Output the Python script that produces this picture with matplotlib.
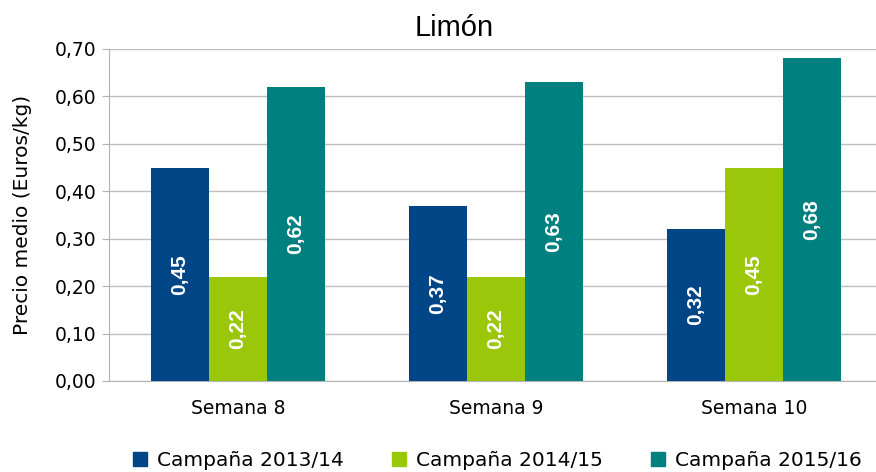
import matplotlib
matplotlib.use("Agg")
import matplotlib.pyplot as plt
from matplotlib.lines import Line2D
import numpy as np

semanas = ["Semana 8", "Semana 9", "Semana 10"]
campanas = ["Campaña 2013/14", "Campaña 2014/15", "Campaña 2015/16"]
precio_1314 = [0.45, 0.37, 0.32]
precio_1415 = [0.22, 0.22, 0.45]
precio_1516 = [0.62, 0.63, 0.68]
colores = ["#004586", "#9bc70b", "#00807f"]
y_ticks = [0.0, 0.1, 0.2, 0.3, 0.4, 0.5, 0.6, 0.7]

fig = plt.figure(figsize=(8.76, 4.72), dpi=100)
ax = fig.add_axes([109 / 876, 1 - 381 / 472, 774 / 876, 332 / 472])

x = np.arange(len(semanas))
width = 0.225
series = [precio_1314, precio_1415, precio_1516]
for i, (vals, col, lab) in enumerate(zip(series, colores, campanas)):
    pos = x + (i - 1) * width
    ax.bar(pos, vals, width=width, color=col, label=lab, zorder=3)
    for xp, v in zip(pos, vals):
        ax.text(xp, v / 2, f"{v:.2f}".replace(".", ","), rotation=90,
                ha="center", va="center", color="white", fontsize=15,
                fontweight="bold", family="Liberation Sans", zorder=4)

ax.set_xlim(-0.5, 2.5)
ax.set_ylim(0, 0.7)
ax.set_yticks(y_ticks)
ax.set_yticklabels([f"{t:.2f}".replace(".", ",") for t in y_ticks], fontsize=13.5)
ax.set_xticks(x)
ax.set_xticklabels(semanas, fontsize=13.5)
ax.tick_params(axis="x", length=0, pad=13)
ax.tick_params(axis="y", length=5, color="#b3b3b3", pad=4)
ax.grid(axis="y", color="#bdbdbd", linewidth=1, zorder=0)
for s in ["top", "right"]:
    ax.spines[s].set_visible(False)
for s in ["left", "bottom"]:
    ax.spines[s].set_color("#b3b3b3")
ax.set_ylabel("Precio medio (Euros/kg)", fontsize=14.5)
ax.yaxis.set_label_coords(-0.1, 0.5)

fig.text(0.519, 0.94, "Limón", ha="center", va="center", fontsize=21,
         family="Liberation Sans")

handles = [Line2D([], [], marker="s", linestyle="none", markersize=10,
                  color=c) for c in colores]
fig.legend(handles, campanas, loc="center", bbox_to_anchor=(0.566, 0.025),
           ncol=3, frameon=False, fontsize=14.5, handletextpad=0.35,
           columnspacing=2.25, handlelength=1.0)

fig.savefig("out.png", dpi=100)
